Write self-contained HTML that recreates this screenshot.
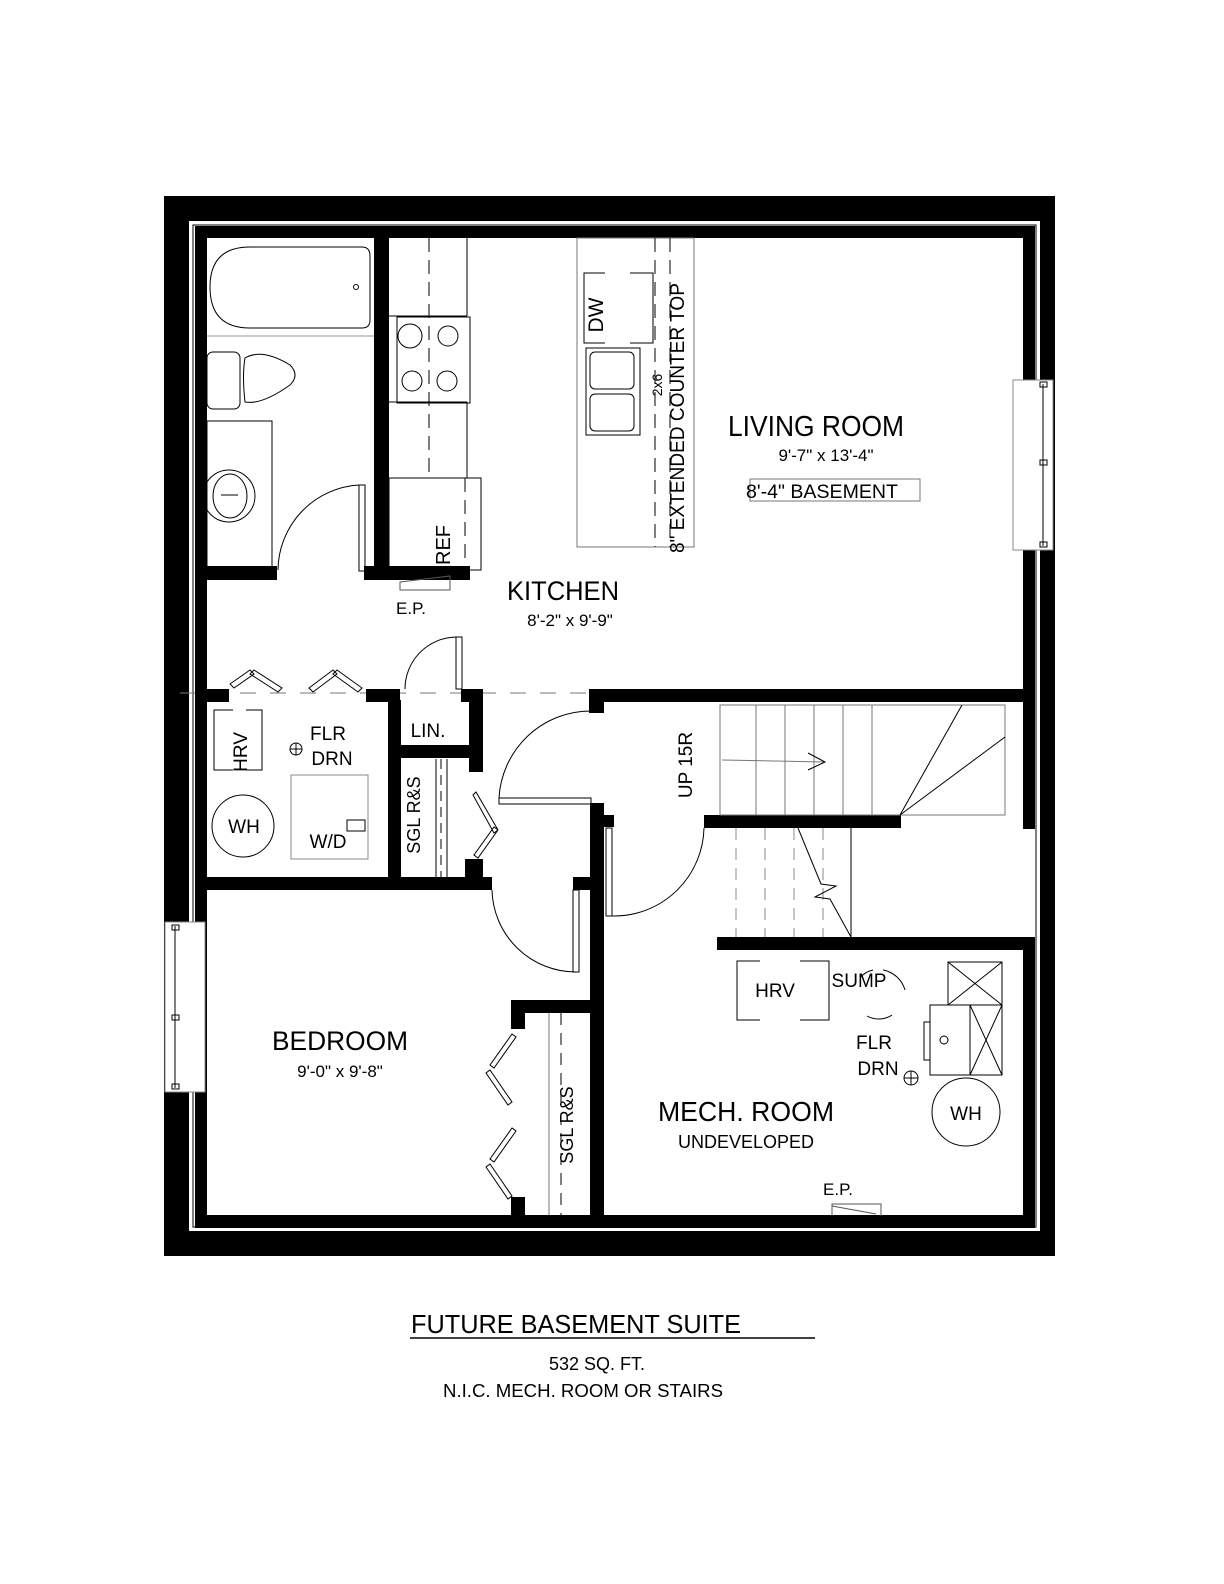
<!DOCTYPE html>
<html><head><meta charset="utf-8"><style>
html,body{margin:0;padding:0;background:#fff}
svg{display:block}
text{font-family:"Liberation Sans",sans-serif;fill:#000}
</style></head><body>
<svg width="1224" height="1584" viewBox="0 0 1224 1584" xmlns="http://www.w3.org/2000/svg">
<rect width="1224" height="1584" fill="#fff"/>
<!-- outer frame -->
<rect x="164" y="196" width="891" height="1060" fill="#000"/>
<rect x="189" y="221" width="851" height="1010" fill="#fff"/>
<rect x="193" y="225" width="843" height="1002" fill="none" stroke="#000" stroke-width="1"/>
<line x1="180" y1="693" x2="1040" y2="693" stroke-dasharray="16 14" stroke="#777" stroke-width="1"/>
<g fill="#000">
<!-- inner perimeter walls -->
<rect x="195" y="226" width="840" height="12"/>
<rect x="195" y="226" width="12" height="1002"/>
<rect x="195" y="1215" width="840" height="13"/>
<rect x="1023" y="226" width="12" height="603"/>
<rect x="1023" y="940" width="12" height="288"/>
<!-- bath/kitchen -->
<rect x="374" y="238" width="15" height="334"/>
<rect x="207" y="566" width="70" height="14"/>
<rect x="364" y="566" width="106" height="14"/>
<!-- middle horizontal -->
<rect x="207" y="689" width="22" height="13"/>
<rect x="366" y="689" width="34" height="13"/>
<rect x="461" y="689" width="22" height="13"/>
<rect x="589" y="689" width="440" height="13"/>
<rect x="589" y="689" width="15" height="24"/>
<!-- laundry / LIN / closet -->
<rect x="388" y="700" width="13" height="190"/>
<rect x="401" y="745" width="82" height="13"/>
<rect x="469" y="700" width="14" height="72"/>
<rect x="465" y="859" width="18" height="20"/>
<rect x="207" y="877" width="285" height="13"/>
<!-- hall / mech vertical wall -->
<rect x="590" y="803" width="14" height="425"/>
<rect x="573" y="877" width="17" height="13"/>
<rect x="604" y="815" width="10" height="12"/>
<!-- bedroom closet -->
<rect x="511" y="1000" width="80" height="13"/>
<rect x="511" y="1000" width="14" height="29"/>
<rect x="511" y="1197" width="14" height="20"/>
<!-- stairs walls -->
<rect x="704" y="815" width="197" height="13"/>
<rect x="717" y="937" width="318" height="13"/>
</g>
<g fill="none" stroke="#000" stroke-width="1">
<!-- windows -->
<rect x="1013" y="380" width="40" height="170" fill="#fff" stroke="#888"/>
<line x1="1043" y1="384" x2="1043" y2="546"/>
<rect x="1040" y="382" width="7" height="5"/><rect x="1040" y="460" width="7" height="5"/><rect x="1040" y="542" width="7" height="5"/>
<rect x="165" y="922" width="40" height="170" fill="#fff" stroke="#888"/>
<line x1="175" y1="926" x2="175" y2="1088"/>
<rect x="172" y="925" width="7" height="5"/><rect x="172" y="1015" width="7" height="5"/><rect x="172" y="1084" width="7" height="5"/>
<!-- bath -->
<path d="M250 247 H362 Q370 247 370 256 V320 Q370 328 362 328 H250 Q210 328 210 287 Q210 247 250 247 Z"/>
<circle cx="356" cy="287" r="2.5"/>
<line x1="207" y1="336" x2="374" y2="336" stroke="#999"/>
<rect x="207" y="352" width="33" height="57" rx="6"/>
<path d="M245 358 Q242 375 245 402 Q262 405 290 385 Q300 375 290 365 Q262 348 245 358 Z"/>
<rect x="207" y="421" width="65" height="151"/>
<circle cx="229" cy="496" r="26"/>
<ellipse cx="230" cy="496" rx="17" ry="22"/>
<line x1="221" y1="495" x2="238" y2="495"/>
<!-- bath door -->
<rect x="359" y="485" width="6" height="86"/>
<path d="M359 485 A86 86 0 0 0 278 570"/>
<!-- kitchen counter -->
<line x1="467" y1="238" x2="467" y2="316"/>
<line x1="467" y1="402" x2="467" y2="478"/>
<line x1="389" y1="402" x2="467" y2="402"/>
<line x1="389" y1="316" x2="467" y2="316"/>
<line x1="429" y1="238" x2="429" y2="478" stroke-dasharray="14 8"/>
<rect x="397" y="317" width="73" height="86"/>
<circle cx="410" cy="336" r="12"/><circle cx="448" cy="336" r="10"/>
<circle cx="412" cy="381" r="10"/><circle cx="447" cy="381" r="10"/>
<rect x="389" y="478" width="92" height="92"/>
<line x1="465" y1="478" x2="465" y2="570" stroke-dasharray="14 8"/>
<path d="M400 582 L450 576 V590 H400 Z" stroke="#555"/>
<!-- island -->
<rect x="577" y="238" width="117" height="309" stroke="#777"/>
<line x1="655" y1="238" x2="655" y2="547" stroke-dasharray="14 8"/>
<line x1="670" y1="238" x2="670" y2="547" stroke-dasharray="14 8"/>
<path d="M605 273 H584 V343 H605 M630 273 H653 V343 H630"/>
<rect x="586" y="348" width="54" height="87"/>
<rect x="590" y="352" width="44" height="37" rx="5"/>
<rect x="590" y="394" width="44" height="37" rx="5"/>
<!-- laundry -->
<path d="M230 684 L250 670 L254 674 L234 688 Z M254 670 L282 688 L278 692 L250 674 Z"/>
<path d="M309 688 L333 670 L337 674 L313 692 Z M337 670 L362 688 L358 692 L333 674 Z"/>
<path d="M233 710 H214 V770 H233 M246 710 H262 V770 H246"/>
<circle cx="296" cy="749" r="6"/>
<line x1="290" y1="749" x2="302" y2="749"/><line x1="296" y1="743" x2="296" y2="755"/>
<circle cx="243" cy="826" r="31"/>
<rect x="291" y="775" width="77" height="84" stroke="#888"/>
<rect x="347" y="820" width="18" height="11"/>
<!-- LIN door -->
<rect x="456" y="637" width="6" height="52"/>
<path d="M456 637 A52 52 0 0 0 405 689"/>
<!-- laundry closet -->
<line x1="436" y1="759" x2="436" y2="877"/>
<line x1="447" y1="759" x2="447" y2="877"/>
<line x1="441" y1="759" x2="441" y2="877" stroke-dasharray="10 6"/>
<path d="M476 792 L498 830 L494 833 L473 795 Z M498 830 L478 858 L474 855 L494 827 Z"/>
<!-- hall door -->
<rect x="499" y="798" width="92" height="6"/>
<path d="M499 798 A92 92 0 0 1 591 711"/>
<!-- mech door -->
<rect x="606" y="828" width="6" height="88"/>
<path d="M612 916 A90 90 0 0 0 704 828"/>
<!-- bedroom door -->
<rect x="573" y="890" width="6" height="82"/>
<path d="M492 890 A84 84 0 0 0 576 972"/>
<!-- bedroom closet -->
<line x1="549" y1="1013" x2="549" y2="1215" stroke="#777"/>
<line x1="561" y1="1013" x2="561" y2="1215" stroke-dasharray="12 8"/>
<path d="M512 1034 L490 1065 L494 1068 L516 1037 Z M490 1070 L512 1102 L508 1105 L486 1073 Z"/>
<path d="M512 1128 L490 1159 L494 1162 L516 1131 Z M490 1164 L512 1196 L508 1199 L486 1167 Z"/>
<!-- stairs upper -->
<rect x="720" y="705" width="285" height="110" stroke="#777"/>
<g stroke="#777">
<line x1="756" y1="705" x2="756" y2="815"/><line x1="785" y1="705" x2="785" y2="815"/>
<line x1="814" y1="705" x2="814" y2="815"/><line x1="843" y1="705" x2="843" y2="815"/>
<line x1="872" y1="705" x2="872" y2="815"/>
</g>
<line x1="900" y1="815" x2="962" y2="705"/>
<line x1="900" y1="815" x2="1005" y2="737"/>
<line x1="722" y1="760" x2="825" y2="762" stroke="#777"/>
<path d="M808 753 L825 762 L808 770"/>
<!-- stairs lower -->
<g stroke="#888" stroke-dasharray="12 8">
<line x1="736" y1="828" x2="736" y2="937"/><line x1="765" y1="828" x2="765" y2="937"/>
<line x1="794" y1="828" x2="794" y2="937"/><line x1="823" y1="828" x2="823" y2="937"/>
</g>
<line x1="851" y1="828" x2="851" y2="937"/>
<path d="M798 828 L821 884 L836 886 L815 897 L830 899 L851 937"/>
<!-- mech -->
<path d="M760 961 H737 V1020 H760 M800 961 H829 V1020 H800"/>
<path d="M860 978 A22 22 0 0 1 873 970 M883 970 A28 28 0 0 1 905 990 M867 1016 A24 24 0 0 0 892 1015"/>
<rect x="948" y="962" width="54" height="43"/>
<path d="M948 962 L1002 1005 M1002 962 L948 1005"/>
<rect x="930" y="1005" width="72" height="70"/>
<line x1="970" y1="1005" x2="970" y2="1075"/>
<path d="M970 1005 L1002 1075 M1002 1005 L970 1075"/>
<rect x="924" y="1022" width="6" height="38"/>
<circle cx="944" cy="1040" r="4"/>
<circle cx="911" cy="1078" r="7"/>
<line x1="904" y1="1078" x2="918" y2="1078"/><line x1="911" y1="1071" x2="911" y2="1085"/>
<circle cx="966" cy="1112" r="34"/>
<path d="M832 1216 V1204 H881 V1216 M832 1206 L876 1214" stroke="#555"/>
<!-- living label box -->
<rect x="750" y="479" width="170" height="22" stroke="#777"/>
</g>
<!-- TEXT -->
<text x="816" y="436" font-size="29" text-anchor="middle" textLength="176" lengthAdjust="spacingAndGlyphs">LIVING ROOM</text>
<text x="826" y="461" font-size="17" text-anchor="middle">9'-7" x 13'-4"</text>
<text x="746" y="498" font-size="19" textLength="152" lengthAdjust="spacingAndGlyphs">8'-4" BASEMENT</text>
<text x="563" y="600" font-size="27" text-anchor="middle" textLength="112" lengthAdjust="spacingAndGlyphs">KITCHEN</text>
<text x="570" y="626" font-size="17" text-anchor="middle">8'-2" x 9'-9"</text>
<text x="411" y="614" font-size="17" text-anchor="middle">E.P.</text>
<text transform="translate(603,315) rotate(-90)" font-size="21" text-anchor="middle">DW</text>
<text transform="translate(662,385) rotate(-90)" font-size="14" text-anchor="middle">2x6</text>
<text transform="translate(684,418) rotate(-90)" font-size="20" text-anchor="middle" textLength="270" lengthAdjust="spacingAndGlyphs">8" EXTENDED COUNTER TOP</text>
<text transform="translate(450,545) rotate(-90)" font-size="20" text-anchor="middle">REF</text>
<text transform="translate(247,752) rotate(-90)" font-size="19" text-anchor="middle">HRV</text>
<text x="328" y="740" font-size="19" text-anchor="middle">FLR</text>
<text x="332" y="765" font-size="19" text-anchor="middle">DRN</text>
<text x="244" y="833" font-size="19" text-anchor="middle">WH</text>
<text x="328" y="848" font-size="19" text-anchor="middle">W/D</text>
<text x="428" y="737" font-size="19" text-anchor="middle">LIN.</text>
<text transform="translate(420,815) rotate(-90)" font-size="18" text-anchor="middle">SGL R&amp;S</text>
<text transform="translate(692,765) rotate(-90)" font-size="19" text-anchor="middle">UP 15R</text>
<text x="340" y="1050" font-size="27" text-anchor="middle" textLength="136" lengthAdjust="spacingAndGlyphs">BEDROOM</text>
<text x="340" y="1077" font-size="17" text-anchor="middle">9'-0" x 9'-8"</text>
<text transform="translate(573,1125) rotate(-90)" font-size="18" text-anchor="middle">SGL R&amp;S</text>
<text x="746" y="1121" font-size="28" text-anchor="middle" textLength="176" lengthAdjust="spacingAndGlyphs">MECH. ROOM</text>
<text x="746" y="1148" font-size="18" text-anchor="middle">UNDEVELOPED</text>
<text x="775" y="997" font-size="19" text-anchor="middle">HRV</text>
<text x="859" y="987" font-size="19" text-anchor="middle">SUMP</text>
<text x="874" y="1049" font-size="19" text-anchor="middle">FLR</text>
<text x="878" y="1075" font-size="19" text-anchor="middle">DRN</text>
<text x="966" y="1120" font-size="19" text-anchor="middle">WH</text>
<text x="838" y="1195" font-size="17" text-anchor="middle">E.P.</text>
<text x="411" y="1333" font-size="26" textLength="330" lengthAdjust="spacingAndGlyphs">FUTURE BASEMENT SUITE</text>
<line x1="410" y1="1338" x2="815" y2="1338" stroke="#000" stroke-width="1.5"/>
<text x="597" y="1370" font-size="18" text-anchor="middle">532 SQ. FT.</text>
<text x="583" y="1397" font-size="18" text-anchor="middle" textLength="280" lengthAdjust="spacingAndGlyphs">N.I.C. MECH. ROOM OR STAIRS</text>
</svg>
</body></html>
